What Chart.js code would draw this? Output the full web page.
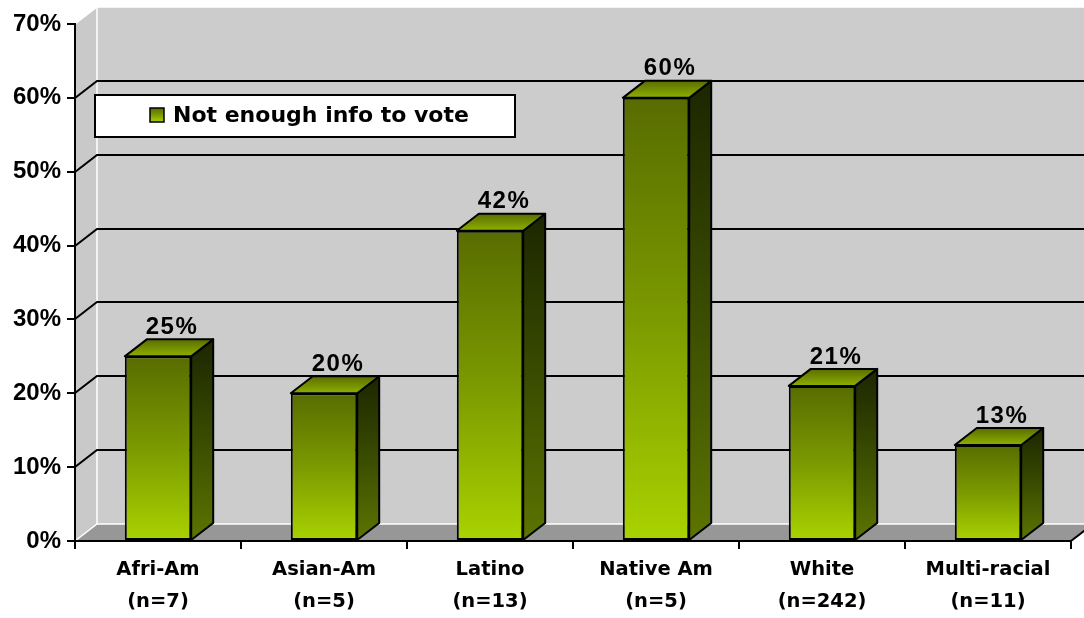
<!DOCTYPE html>
<html>
<head>
<meta charset="utf-8">
<style>
  html, body { margin: 0; padding: 0; background: #ffffff; }
  #wrap { width: 1084px; height: 618px; position: relative; }
</style>
<script src="https://cdn.jsdelivr.net/npm/chart.js@4.4.1/dist/chart.umd.min.js"></script>
</head>
<body>
<div id="wrap"><canvas id="chart" width="1084" height="618"></canvas></div>
<script>
// ---- data ----
const categories = [
  ["Afri-Am", "(n=7)"],
  ["Asian-Am", "(n=5)"],
  ["Latino", "(n=13)"],
  ["Native Am", "(n=5)"],
  ["White", "(n=242)"],
  ["Multi-racial", "(n=11)"]
];
const seriesName = "Not enough info to vote";
const notEnoughInfo = [25, 20, 42, 60, 21, 13];
const yTickValues = [0, 10, 20, 30, 40, 50, 60, 70];

// ---- look ----
const FONT = '"DejaVu Sans", Verdana, sans-serif';
const NUM_FONT = '"Liberation Sans", Arial, Helvetica, sans-serif';
const DX = 22;   // depth offset to the right
const DY = 17;   // depth offset upwards

function path(ctx, pts) {
  ctx.beginPath();
  ctx.moveTo(pts[0][0], pts[0][1]);
  for (let i = 1; i < pts.length; i++) ctx.lineTo(pts[i][0], pts[i][1]);
  ctx.closePath();
}

function frontGradient(ctx, top, bottom) {
  const g = ctx.createLinearGradient(0, top, 0, bottom);
  g.addColorStop(0, '#586c00');
  g.addColorStop(0.5, '#7c9a00');
  g.addColorStop(1, '#a9d300');
  return g;
}

// walls, floor, gridlines, bar sides/tops, value labels and the legend box
const depth3d = {
  id: 'depth3d',
  beforeDraw(chart) {
    const ctx = chart.ctx;
    const { left, right, top, bottom } = chart.chartArea;
    const ys = chart.scales.y;
    ctx.save();
    // side wall
    ctx.fillStyle = '#c9c9c9';
    path(ctx, [[left, top], [left + DX, top - DY], [left + DX, bottom - DY], [left, bottom]]);
    ctx.fill();
    // back wall
    ctx.fillStyle = '#cccccc';
    ctx.fillRect(left + DX, top - DY, right - left, bottom - top);
    // floor
    ctx.fillStyle = '#979797';
    path(ctx, [[left, bottom], [left + DX, bottom - DY], [right + DX, bottom - DY], [right, bottom]]);
    ctx.fill();
    // light edges of the walls
    ctx.strokeStyle = '#ffffff';
    ctx.lineWidth = 1.5;
    ctx.beginPath();
    ctx.moveTo(left, top); ctx.lineTo(left + DX, top - DY); ctx.lineTo(right + DX, top - DY);
    ctx.moveTo(left + DX, top - DY); ctx.lineTo(left + DX, bottom - DY);
    ctx.moveTo(left, bottom); ctx.lineTo(left + DX, bottom - DY); ctx.lineTo(right + DX, bottom - DY);
    ctx.stroke();
    // gridlines across side and back wall
    ctx.strokeStyle = '#000000';
    ctx.lineWidth = 2;
    ctx.beginPath();
    yTickValues.forEach(v => {
      if (v <= ys.min || v >= ys.max) return;
      const py = Math.round(ys.getPixelForValue(v));
      ctx.moveTo(left, py);
      ctx.lineTo(left + DX, py - DY);
      ctx.lineTo(right + DX + 5, py - DY);
    });
    ctx.stroke();
    // right edge of the floor
    ctx.beginPath();
    ctx.moveTo(right, bottom);
    ctx.lineTo(right + DX, bottom - DY);
    ctx.stroke();
    ctx.restore();
  },
  afterDatasetsDraw(chart) {
    const ctx = chart.ctx;
    const meta = chart.getDatasetMeta(0);
    ctx.save();
    meta.data.forEach((bar, i) => {
      const { x, y, base, width } = bar.getProps(['x', 'y', 'base', 'width'], true);
      const l = x - width / 2, r = x + width / 2;
      // side face
      const gs = ctx.createLinearGradient(0, y - DY, 0, base);
      gs.addColorStop(0, '#1c2600');
      gs.addColorStop(0.5, '#3a4c00');
      gs.addColorStop(1, '#5c7400');
      ctx.fillStyle = gs;
      path(ctx, [[r, y], [r + DX, y - DY], [r + DX, base - DY], [r, base]]);
      ctx.fill();
      ctx.strokeStyle = '#000';
      ctx.lineWidth = 2;
      ctx.lineJoin = 'round';
      ctx.stroke();
      // top face
      const gt = ctx.createLinearGradient(0, y - DY, 0, y);
      gt.addColorStop(0, '#5a6e00');
      gt.addColorStop(1, '#8eaf00');
      ctx.fillStyle = gt;
      path(ctx, [[l, y], [l + DX, y - DY], [r + DX, y - DY], [r, y]]);
      ctx.fill();
      ctx.stroke();
      // value label
      ctx.fillStyle = '#000';
      ctx.font = 'bold 24px ' + NUM_FONT;
      ctx.letterSpacing = '1.5px';
      ctx.textAlign = 'center';
      ctx.textBaseline = 'middle';
      ctx.fillText(notEnoughInfo[i] + '%', x + DX / 2 + 3, y - DY - 12);
    });
    ctx.restore();
  },
  afterDraw(chart) {
    const ctx = chart.ctx;
    ctx.save();
    // legend box
    ctx.fillStyle = '#ffffff';
    ctx.fillRect(95, 95, 420, 42);
    ctx.strokeStyle = '#000';
    ctx.lineWidth = 2;
    ctx.strokeRect(95, 95, 420, 42);
    ctx.fillStyle = frontGradient(ctx, 108, 122);
    ctx.fillRect(150, 108, 14, 14);
    ctx.lineWidth = 1.5;
    ctx.strokeRect(150, 108, 14, 14);
    ctx.fillStyle = '#000';
    ctx.font = 'bold 22px ' + FONT;
    ctx.textAlign = 'left';
    ctx.textBaseline = 'middle';
    ctx.fillText(chart.data.datasets[0].label, 173, 116);
    ctx.restore();
  }
};

Chart.defaults.font.family = FONT;
Chart.defaults.font.weight = 'bold';
Chart.defaults.color = '#000';

new Chart(document.getElementById('chart'), {
  type: 'bar',
  data: {
    labels: categories,
    datasets: [{
      label: seriesName,
      data: notEnoughInfo,
      backgroundColor(c) {
        const chart = c.chart;
        if (!chart.chartArea || c.raw === undefined) return '#7c9a00';
        const ys = chart.scales.y;
        return frontGradient(chart.ctx, ys.getPixelForValue(c.raw), ys.getPixelForValue(0));
      },
      borderColor: '#000',
      borderWidth: 2,
      borderSkipped: false,
      categoryPercentage: 1,
      barPercentage: 0.4
    }]
  },
  options: {
    responsive: false,
    animation: false,
    devicePixelRatio: 1,
    events: [],
    layout: { padding: { top: 24, right: 13, left: 0, bottom: 0 } },
    plugins: { legend: { display: false }, tooltip: { enabled: false } },
    scales: {
      x: {
        grid: { offset: true, drawOnChartArea: false, drawTicks: true, tickLength: 8, color: '#000', lineWidth: 2 },
        border: { color: '#000', width: 2 },
        ticks: { font: { size: 19.5, weight: 'bold', lineHeight: 32 / 19.5 }, padding: 5, maxRotation: 0, autoSkip: false, color: '#000' },
        afterFit(s) { s.height = 77; }
      },
      y: {
        min: 0,
        max: 70,
        grid: { drawOnChartArea: false, drawTicks: true, tickLength: 8, color: '#000', lineWidth: 2 },
        border: { color: '#000', width: 2 },
        ticks: { stepSize: 10, font: { family: NUM_FONT, size: 24, weight: 'bold' }, padding: 6, color: '#000', callback: v => v + '%' },
        afterFit(s) { s.width = 75; }
      }
    }
  },
  plugins: [depth3d]
});
</script>
</body>
</html>
